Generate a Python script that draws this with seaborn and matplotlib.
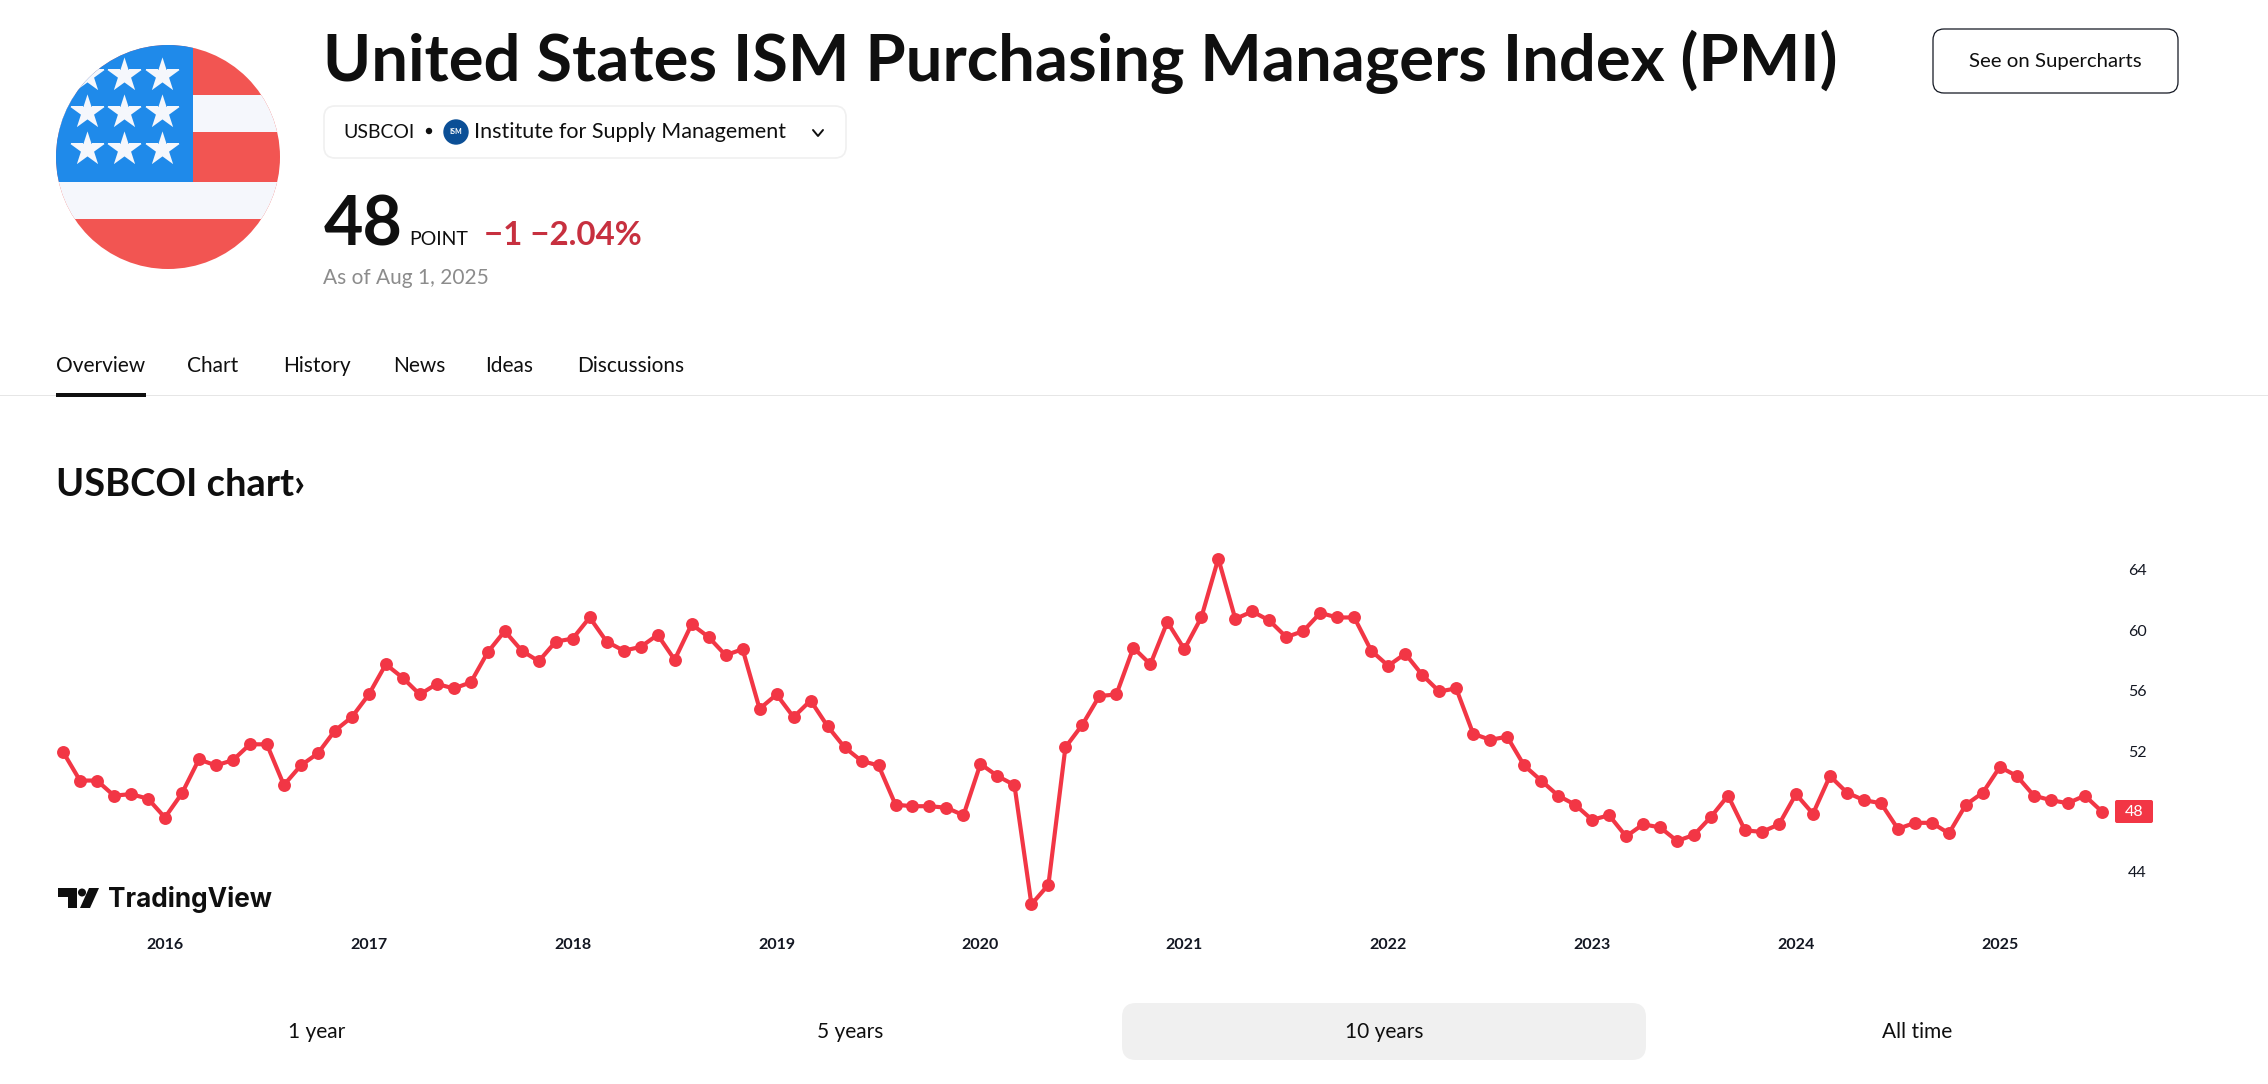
import numpy as np
import pandas as pd
import matplotlib
matplotlib.use("Agg")
import matplotlib.pyplot as plt
from matplotlib.patches import Circle, Rectangle, FancyBboxPatch, Polygon
import seaborn as sns

# месячные значения индекса (июль 2015 - июль 2025)
pmi_values = [
    51.95, 50.05, 50.05, 49.05, 49.15, 48.85, 47.6, 49.2, 51.45, 51.05, 51.4, 52.45,
    52.45, 49.75, 51.05, 51.85, 53.35, 54.25, 55.75, 57.75, 56.85, 55.75, 56.45, 56.15,
    56.55, 58.55, 59.95, 58.65, 57.95, 59.25, 59.45, 60.85, 59.25, 58.65, 58.9, 59.7,
    58.05, 60.4, 59.55, 58.35, 58.75, 54.8, 55.75, 54.25, 55.35, 53.65, 52.25, 51.35,
    51.05, 48.45, 48.35, 48.35, 48.25, 47.75, 51.15, 50.35, 49.75, 41.85, 43.15, 52.25,
    53.75, 55.65, 55.75, 58.85, 57.75, 60.55, 58.75, 60.85, 64.75, 60.75, 61.25, 60.65,
    59.55, 59.95, 61.15, 60.85, 60.85, 58.65, 57.65, 58.45, 57.05, 55.95, 56.15, 53.15,
    52.75, 52.95, 51.05, 50.05, 49.05, 48.45, 47.45, 47.75, 46.35, 47.15, 46.95, 46.05,
    46.45, 47.65, 49.05, 46.75, 46.65, 47.15, 49.15, 47.85, 50.35, 49.25, 48.75, 48.55,
    46.85, 47.25, 47.25, 46.55, 48.45, 49.25, 50.95, 50.35, 49.05, 48.75, 48.55, 49.05,
    48.0,
]
year_labels = ["2016", "2017", "2018", "2019", "2020", "2021", "2022", "2023", "2024", "2025"]
price_ticks = [44, 52, 56, 60, 64]
tab_labels = ["Overview", "Chart", "History", "News", "Ideas", "Discussions"]
tab_x = [56, 187, 283, 393, 485, 577]
range_labels = ["1 year", "5 years", "10 years", "All time"]
range_x = [317, 850, 1384, 1917]

W, H = 2268, 1084
RED = "#f23645"
FONT = "Lato"

sns.set_theme(style="white")
plt.rcParams["font.family"] = [FONT, "DejaVu Sans"]

fig = plt.figure(figsize=(W / 100, H / 100), dpi=100, facecolor="white")

# -------------------------------- график --------------------------------
ax_left, ax_right, ax_top, ax_bottom = 40, 2125, 540, 930
ax = fig.add_axes([ax_left / W, 1 - ax_bottom / H, (ax_right - ax_left) / W, (ax_bottom - ax_top) / H])

df = pd.DataFrame({"month": np.arange(len(pmi_values)), "pmi": pmi_values})
sns.lineplot(data=df, x="month", y="pmi", color=RED, linewidth=3, marker="o",
             markersize=9.3, markeredgewidth=0, ax=ax, clip_on=False)

# шаг по оси X 17 px на месяц, первая точка на 63 px; по оси Y 15.1 px на пункт
ax.set_xlim((ax_left - 63) / 16.99, (ax_right - 63) / 16.99)
ax.set_ylim(48 + (811.5 - ax_bottom) / 15.1, 48 + (811.5 - ax_top) / 15.1)
ax.set_xticks(np.arange(6, 6 + 12 * len(year_labels), 12))
ax.set_xticklabels(year_labels, fontsize=11.5, fontweight="bold", color="#131722")
ax.set_yticks(price_ticks)
ax.set_yticklabels([str(t) for t in price_ticks], fontsize=11.5, color="#131722")
ax.yaxis.tick_right()
ax.tick_params(axis="y", length=0, pad=2)
ax.tick_params(axis="x", length=0, pad=6)
ax.set_xlabel("")
ax.set_ylabel("")
sns.despine(ax=ax, left=True, right=True, top=True, bottom=True)
ax.patch.set_alpha(0)

# -------------------------------- оформление страницы --------------------------------
ui = fig.add_axes([0, 0, 1, 1], zorder=5)
ui.set_xlim(0, W)
ui.set_ylim(H, 0)
ui.axis("off")

# флаг
clip = Circle((168, 157), 112, transform=ui.transData)
flag_parts = [
    Rectangle((50, 40), 240, 240, color="#f25552", lw=0),
    Rectangle((50, 95), 240, 37, color="#f5f7fc", lw=0),
    Rectangle((50, 181.5), 240, 37.5, color="#f5f7fc", lw=0),
    Rectangle((50, 40), 143, 141.5, color="#1f8aea", lw=0),
]
for p in flag_parts:
    ui.add_patch(p)
    p.set_clip_path(clip)
stars = ui.scatter([87, 124, 162] * 3, [75] * 3 + [112] * 3 + [149] * 3, marker="*", s=680,
                   color="#f5f7fc", linewidths=0, zorder=3)
stars.set_clip_path(clip)

ink = "#0f0f0f"
ui.text(323, 81, "United States ISM Purchasing Managers Index (PMI)", fontsize=46.9, fontweight="bold",
        color=ink, va="baseline")

# кнопка
ui.add_patch(FancyBboxPatch((1933, 29), 245, 64, boxstyle="round,pad=0,rounding_size=11", fc="white", ec="#131722", lw=0.9))
ui.text(2055, 61, "See on Supercharts", fontsize=14.7, ha="center", va="center", color=ink)

# плашка источника
ui.add_patch(FancyBboxPatch((324, 106), 522, 52, boxstyle="round,pad=0,rounding_size=11", fc="white", ec="#f0f0f0", lw=1.2))
ui.text(343, 132.5, "USBCOI", fontsize=14, va="center", color=ink)
ui.add_patch(Circle((429, 131), 2.5, color=ink))
ui.add_patch(Circle((456, 132), 12, color="#0b4f96"))
ui.text(456, 132, "ISM", fontsize=5, fontweight="bold", ha="center", va="center", color="white")
ui.text(474, 132.5, "Institute for Supply Management", fontsize=15.5, va="center", color=ink)
ui.plot([813, 818, 823], [130, 136, 130], color=ink, lw=1.4)

# значение
ui.text(324, 245, "48", fontsize=49, fontweight="bold", color=ink, va="baseline")
ui.text(409, 245, "POINT", fontsize=14, color=ink, va="baseline")
ui.text(484, 245, "\u22121 \u22122.04%", fontsize=23.8, fontweight="bold", color="#c7303f", va="baseline")
ui.text(323, 284, "As of Aug 1, 2025", fontsize=15, color="#8c8c8c", va="baseline")

# вкладки
for label, x in zip(tab_labels, tab_x):
    ui.text(x, 372.5, label, fontsize=15, color=ink, va="baseline")
ui.add_patch(Rectangle((0, 394.5), W, 1.5, color="#e6e6e6", lw=0))
ui.add_patch(Rectangle((56, 392.5), 90, 4.5, color=ink, lw=0))

ui.text(56, 496, "USBCOI chart\u203a", fontsize=27.4, fontweight="bold", color=ink, va="baseline")

# логотип
ui.add_patch(Polygon([(58, 888), (77, 888), (77, 908), (68, 908), (68, 897), (58, 897)], color=ink, lw=0))
ui.add_patch(Circle((82, 892.5), 4, color=ink, lw=0))
ui.add_patch(Polygon([(89, 888), (99, 888), (90, 908), (80, 908)], color=ink, lw=0))
ui.text(108, 907, "TradingView", fontsize=18.8, fontweight="bold", family=["Inter", "DejaVu Sans"], color=ink, va="baseline")

# плашка последнего значения
ui.add_patch(FancyBboxPatch((2115, 800), 38, 23, boxstyle="round,pad=0,rounding_size=2", fc=RED, ec="none"))
ui.text(2134, 812, "48", fontsize=11.5, color="white", ha="center", va="center")

# переключатель периода
ui.add_patch(FancyBboxPatch((1122, 1003), 524, 57, boxstyle="round,pad=0,rounding_size=14", fc="#f0f0f0", ec="none"))
for label, x in zip(range_labels, range_x):
    ui.text(x, 1032, label, fontsize=15, color=ink, ha="center", va="center")

fig.savefig("out.png", dpi=100)
